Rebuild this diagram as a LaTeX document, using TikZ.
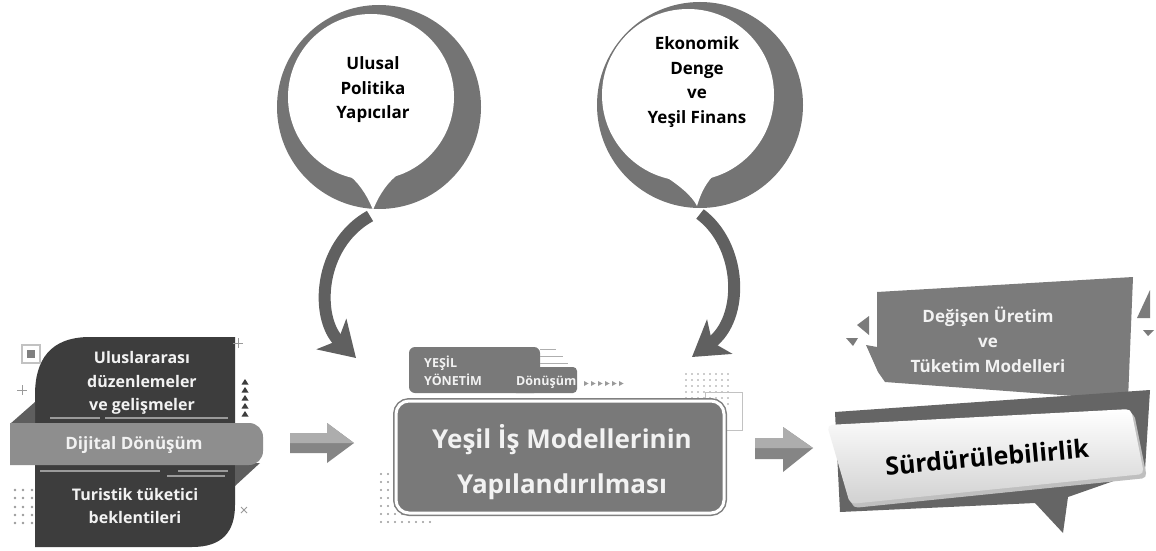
\documentclass[tikz,border=0pt]{standalone}
\usepackage{fontspec}
\setmainfont{Open Sans}
\usetikzlibrary{arrows.meta,calc}
\definecolor{ringgray}{HTML}{747474}
\definecolor{darkblock}{HTML}{3D3D3D}
\definecolor{bandgray}{HTML}{8E8E8E}
\definecolor{foldgray}{HTML}{5E5E5E}
\definecolor{mainfill}{HTML}{797979}
\definecolor{bannergray}{HTML}{7B7B7B}
\definecolor{backgray}{HTML}{656565}
\definecolor{arrowlo}{HTML}{858585}
\definecolor{arrowhi}{HTML}{ADADAD}
\definecolor{curvegray}{HTML}{606060}
\definecolor{decogray}{HTML}{9A9A9A}
\definecolor{txtlight}{HTML}{F2F2F2}
\begin{document}
\begin{tikzpicture}[x=1pt,y=-1pt,
  bubbletext/.style={align=center,font=\fontsize{17}{24.5}\selectfont\bfseries,text=black,inner sep=0},
  blocktext/.style={align=center,font=\fontsize{16}{23.5}\selectfont\bfseries,text=txtlight,inner sep=0},
  bandtext/.style={font=\fontsize{17}{20}\selectfont\bfseries,text=txtlight,inner sep=0},
  maintext/.style={align=center,font=\fontsize{26}{45}\selectfont\bfseries,text=txtlight,inner sep=0},
  tabtext/.style={font=\fontsize{12.5}{14}\selectfont\bfseries,text=txtlight,inner sep=0,anchor=base west},
  bannertext/.style={align=center,font=\fontsize{17}{25}\selectfont\bfseries,text=txtlight,inner sep=0},
  curvearrow/.style={draw=curvegray,line width=12pt,-{Stealth[length=34pt,width=42pt,inset=9pt]}},
  decoline/.style={draw=decogray,line width=1.2pt},
  dot/.style={fill=decogray},
]
\useasboundingbox (0,0) rectangle (1156,551);
\fill[white] (0,0) rectangle (1156,551);

% ---------- bubble 1 ----------
\fill[ringgray] (379,107) circle (102);
\fill[white] (371,97) circle (83);
\fill[white] (350,176) .. controls (362,186) and (369,200) .. (373,210) .. controls (377,200) and (384,186) .. (396,176) -- cycle;
\node[bubbletext] (b1) at (373,90) {Ulusal\\Politika\\Yapıcılar};
\coordinate (b1tip) at (370,216);

% ---------- bubble 2 ----------
\fill[ringgray] (700,105) circle (103);
\fill[white] (688,95) circle (86);
\fill[white] (666,177) .. controls (680,186) and (692,196) .. (697,206) .. controls (700,196) and (704,186) .. (712,177) -- cycle;
\node[bubbletext] (b2) at (697,82) {Ekonomik\\Denge\\ve\\Yeşil Finans};
\coordinate (b2tip) at (700,214);

% ---------- left block ----------
\fill[darkblock] (35,547) -- (35,395) .. controls (35,360) and (50,337) .. (90,337) -- (235,337) -- (235,505) .. controls (235,532) and (222,547) .. (192,547) -- cycle;
\fill[foldgray] (10,424) -- (35,402) -- (35,424) -- cycle;
\fill[foldgray] (235,463) -- (260,463) -- (235,486) -- cycle;
\fill[bandgray] (10,465) -- (10,423) [rounded corners=14] -- (263,423) -- (263,465) [sharp corners] -- cycle;
\draw[decoline] (50,418) -- (100,418) (105,418) -- (228,418);
\draw[decoline] (40,471) -- (160,471) (178,471) -- (228,471) (167,476) -- (225,476);
\node[blocktext] (intl) at (142,383) {Uluslararası\\düzenlemeler\\ve gelişmeler};
\node[bandtext] (dig) at (134,445) {Dijital Dönüşüm};
\node[blocktext] (tour) at (135,506) {Turistik tüketici\\beklentileri};
% decorations
\draw[decogray!60,line width=1.5pt] (22,345) rectangle (40,363);
\fill[gray] (27,350) rectangle (35,358);
\draw[decogray,line width=1pt] (22,385) -- (22,395) (17,390) -- (27,390);
\draw[decogray,line width=1pt] (238,338) -- (238,348) (233,343) -- (243,343);
\foreach \yy in {382,390,398,406,414} \fill[darkblock] (245,\yy-3) -- (248.5,\yy+2.5) -- (241.5,\yy+2.5) -- cycle;
\draw[decogray,line width=1pt] (241,507) -- (247,513) (241,513) -- (247,507);
\foreach \xx in {15,23,32} \foreach \yy in {490,498,507,515,523} \fill[dot] (\xx,\yy) circle (1.3);

% ---------- horizontal arrow 1 ----------
\coordinate (h1s) at (290,443);
\coordinate (h1e) at (354,443);
\fill[arrowlo] (h1s) -- ++(0,-10) -- ++(37,0) -- ++(0,-10) -- (h1e) -- ++(-27,20) -- ++(0,-10) -- ++(-37,0) -- cycle;
\fill[arrowhi] (h1s) -- ++(0,-10) -- ++(37,0) -- ++(0,-10) -- (h1e) -- cycle;

% ---------- center ----------
\foreach \xx in {381,388,395,402,409,416,423,430} \foreach \yy in {474,482,490,498,506,514,522} \fill[dot] (\xx,\yy) circle (1.1);
\foreach \xx in {686,692,698,704,710,716,722,728} \foreach \yy in {374,380,386,392,398,404} \fill[dot] (\xx,\yy) circle (0.9);
\draw[decogray!60,line width=0.8pt] (705,392) rectangle (742,430);
\fill[mainfill,rounded corners=6] (409,347) rectangle (540,393);
\fill[mainfill,rounded corners=4] (512,367) rectangle (577,393);
\draw[decogray!80,line width=1pt] (540,349) -- (556,349) (540,356) -- (563,356) (540,363) -- (568,363);
\foreach \xx in {584,591,598,605,612,619} \fill[decogray] (\xx,381) -- (\xx+4.5,383.5) -- (\xx,386) -- cycle;
\node[tabtext] (tab1) at (424,367) {YEŞİL};
\node[tabtext] (tab2) at (424,385) {YÖNETİM};
\node[tabtext] (tab3) at (516,385) {Dönüşüm};
\node[draw=white,line width=3pt,fill=mainfill,rounded corners=13,minimum width=328pt,minimum height=112pt,
      preaction={draw=gray,line width=6pt},inner sep=0] (main) at (560,457) {};
\node[maintext] (maint) at (562,462) {Yeşil İş Modellerinin\\Yapılandırılması};

% ---------- curved arrows ----------
\coordinate (c1end) at (356,358);
\coordinate (c2end) at (692,357);
\draw[curvearrow] (b1tip) .. controls (318,245) and (315,318) .. (c1end);
\draw[curvearrow] (b2tip) .. controls (742,245) and (745,318) .. (c2end);

% ---------- horizontal arrow 2 ----------
\coordinate (h2s) at (755,448);
\coordinate (h2e) at (813,448);
\fill[arrowlo] (h2s) -- ++(0,-10) -- ++(28,0) -- ++(0,-11) -- (h2e) -- ++(-30,24) -- ++(0,-13) -- ++(-28,0) -- cycle;
\fill[arrowhi] (h2s) -- ++(0,-10) -- ++(28,0) -- ++(0,-11) -- (h2e) -- cycle;

% ---------- right side ----------
\fill[bannergray] (877,292) -- (1133,277) -- (1128,400) -- (885,382) -- (878,372) -- (866,345) -- (877,347) -- cycle;
\fill[bannergray] (857,325) -- (869,316) -- (869,335) -- cycle;
\fill[bannergray] (846,338) -- (858,338) -- (853,346) -- cycle;
\fill[bannergray] (1137,318) -- (1150,290) -- (1150,318) -- cycle;
\fill[bannergray] (1143,330) -- (1154,330) -- (1148,336) -- cycle;
\node[bannertext] (chg) at (988,340) {Değişen Üretim\\ve\\Tüketim Modelleri};
\fill[backgray] (835,412) -- (1150,390) -- (1145,470) -- (1068,497) -- (1063,533) -- (1035,503) -- (840,512) -- cycle;
\fill[black!25,rounded corners=5] (830,429) -- (1134,413) -- (1147,478) -- (853,508) -- cycle;
\shade[top color=white,bottom color=black!18,rounded corners=5] (827,425) -- (1131,409) -- (1144,474) -- (850,504) -- cycle;
\node[font=\fontsize{25}{28}\selectfont\bfseries,text=black,rotate=5,inner sep=0] (sust) at (987,457) {Sürdürülebilirlik};
\end{tikzpicture}
\end{document}
